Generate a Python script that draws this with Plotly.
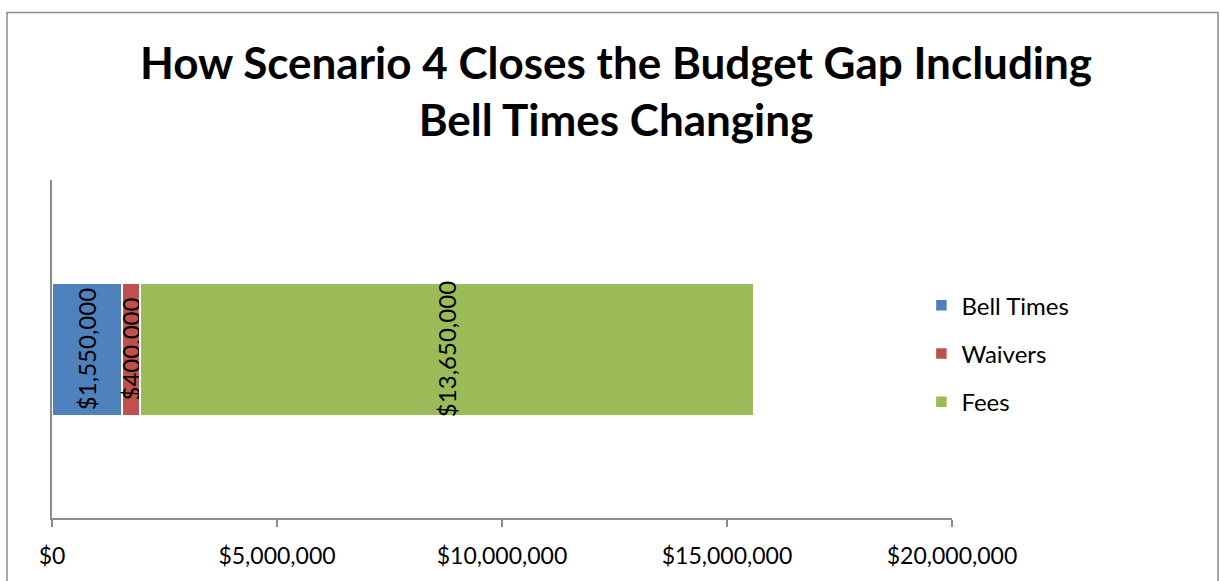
import plotly.graph_objects as go

categories = ["Scenario 4"]
series_names = ["Bell Times", "Waivers", "Fees"]
bell_times = [1550000]
waivers = [400000]
fees = [13650000]
colors = ["#4F81BD", "#C0504D", "#9BBB59"]
tick_vals = [0, 5000000, 10000000, 15000000, 20000000]
tick_text = ["$0", "$5,000,000", "$10,000,000", "$15,000,000", "$20,000,000"]
title_text = "How Scenario 4 Closes the Budget Gap Including<br>Bell Times Changing"

FONT = "Lato, Open Sans, sans-serif"

fig = go.Figure()
for name, vals, col in zip(series_names, [bell_times, waivers, fees], colors):
    fig.add_trace(go.Bar(
        y=categories, x=vals, name=name, orientation="h",
        marker=dict(color=col, line=dict(color="white", width=1.5)),
        text=["${:,}".format(v) for v in vals],
        textposition="inside", insidetextanchor="middle",
        textangle=-90, constraintext="none",
        textfont=dict(family=FONT, size=24, color="black"),
        legendgroup=name,
        hoverinfo="x+name",
    ))

fig.update_layout(
    barmode="stack",
    bargap=0.608,
    width=1220, height=581,
    margin=dict(l=52, r=268, t=180, b=58),
    paper_bgcolor="white", plot_bgcolor="white",
    title=dict(text=title_text, x=616/1220, xref="container", xanchor="center",
               y=1 - 79/581, yanchor="middle",
               font=dict(family=FONT, size=44, color="black", weight="bold")),
    legend=dict(x=0.966, xanchor="left", y=0.486, yanchor="middle",
                traceorder="grouped", tracegroupgap=14,
                font=dict(family=FONT, size=24, color="black")),
    xaxis=dict(range=[0, 20000000], tickvals=tick_vals, ticktext=tick_text,
               showline=True, linecolor="#8C8C8C", linewidth=1.5,
               ticks="outside", ticklen=7, tickcolor="#8C8C8C", tickwidth=1.5,
               showgrid=False, zeroline=False, ticklabelstandoff=10,
               tickfont=dict(family=FONT, size=23, color="black")),
    yaxis=dict(showticklabels=False, showline=True, linecolor="#8C8C8C", linewidth=1.5,
               showgrid=False, zeroline=False, ticks=""),
    shapes=[dict(type="rect", xref="paper", yref="paper",
                 x0=(7-52)/900, x1=(1218-52)/900, y0=(523-590)/343, y1=(523-10)/343,
                 line=dict(color="#8C8C8C", width=1.5), fillcolor="rgba(0,0,0,0)", layer="below")],
)

fig.write_html("out.html", config={"displayModeBar": False},
               post_script="document.body.style.margin='0';")
